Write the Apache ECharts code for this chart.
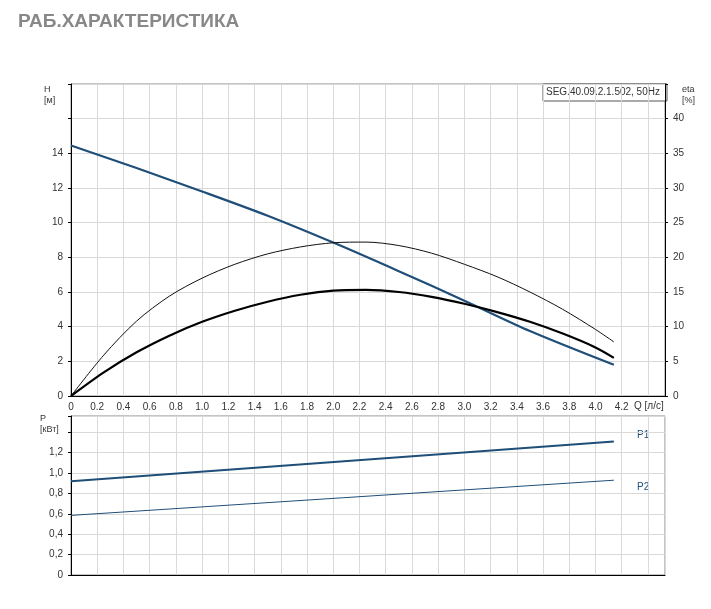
<!DOCTYPE html>
<html><head><meta charset="utf-8">
<script src="https://cdn.jsdelivr.net/npm/echarts@6/dist/echarts.min.js"></script>
<style>html,body{margin:0;padding:0;background:#fff}#c{width:711px;height:609px}</style>
</head><body><div id="c"></div>
<script>
const qH = [0, 0.5, 1.0, 1.5, 2.0, 2.5, 3.0, 3.5, 4.14];
const H = [14.45, 13.15, 11.8, 10.4, 8.85, 7.2, 5.5, 3.75, 1.8];
const qEta = [0, 0.25, 0.5, 0.75, 1.0, 1.25, 1.5, 1.75, 2.0, 2.25, 2.5, 2.75, 3.0, 3.25, 3.5, 3.75, 4.0, 4.14];
const etaThin = [0, 5.9, 10.8, 14.4, 17.0, 19.0, 20.5, 21.5, 22.1, 22.2, 21.7, 20.6, 19.0, 17.2, 15.0, 12.5, 9.6, 7.8];
const etaThick = [0, 3.4, 6.3, 8.7, 10.7, 12.3, 13.6, 14.6, 15.2, 15.3, 15.0, 14.3, 13.3, 12.1, 10.7, 9.0, 7.0, 5.5];
const qP = [0, 4.14];
const P1 = [0.92, 1.31];
const P2 = [0.585, 0.93];
const z = (a,b)=>a.map((v,i)=>[v,b[i]]);
const grid = {color:'#d9d9d9'};
const chart = echarts.init(document.getElementById('c'));
const xax = (gi, show) => ({type:'value', gridIndex:gi, min:0, max:4.53, interval:0.2,
  axisLine:{show:true,onZero:false,lineStyle:{color:'#000'}}, axisTick:{show:false},
  axisLabel:{show:show, color:'#333', fontSize:10, fontFamily:'Arial', margin:6,
    formatter:v=>v>4.21?'':(v===0?'0':v.toFixed(1))},
  splitLine:{show:true,lineStyle:grid}});
chart.setOption({
  animation:false,
  grid:[{left:71,right:46,top:84,height:312,show:true,borderColor:'#888'},
        {left:71,right:46,top:416,height:159,show:true,borderColor:'#888'}],
  xAxis:[xax(0,true), xax(1,false)],
  yAxis:[
    {type:'value',gridIndex:0,min:0,max:18,interval:2,
     axisLine:{show:true,lineStyle:{color:'#000'}},axisTick:{show:true,length:3},
     axisLabel:{color:'#333',fontSize:10,fontFamily:'Arial',formatter:v=>v>14?'':v},
     splitLine:{show:true,lineStyle:grid}},
    {type:'value',gridIndex:0,min:0,max:45,interval:5,position:'right',
     axisLine:{show:true,lineStyle:{color:'#000'}},axisTick:{show:true,length:3},
     axisLabel:{color:'#333',fontSize:10,fontFamily:'Arial',formatter:v=>v>40?'':v},
     splitLine:{show:false}},
    {type:'value',gridIndex:1,min:0,max:1.56,interval:0.2,
     axisLine:{show:true,lineStyle:{color:'#000'}},axisTick:{show:true,length:3},
     axisLabel:{color:'#333',fontSize:10,fontFamily:'Arial',
       formatter:v=>v>1.21?'':(v===0?'0':v.toFixed(1).replace('.',','))},
     splitLine:{show:true,lineStyle:grid}}
  ],
  series:[
    {type:'line',xAxisIndex:0,yAxisIndex:0,data:z(qH,H),smooth:0.3,symbol:'none',lineStyle:{color:'#1f4e79',width:2.2}},
    {type:'line',xAxisIndex:0,yAxisIndex:1,data:z(qEta,etaThin),smooth:0.3,symbol:'none',lineStyle:{color:'#111',width:1}},
    {type:'line',xAxisIndex:0,yAxisIndex:1,data:z(qEta,etaThick),smooth:0.3,symbol:'none',lineStyle:{color:'#000',width:2.2}},
    {type:'line',xAxisIndex:1,yAxisIndex:2,data:z(qP,P1),symbol:'none',lineStyle:{color:'#1f4e79',width:2.2}},
    {type:'line',xAxisIndex:1,yAxisIndex:2,data:z(qP,P2),symbol:'none',lineStyle:{color:'#1f4e79',width:1}}
  ],
  graphic:[
    {type:'text',left:18,top:12,style:{text:'РАБ.ХАРАКТЕРИСТИКА',font:'bold 19px Arial',fill:'#888'}},
    {type:'text',left:44,top:84,style:{text:'H\n[м]',font:'9px Arial',fill:'#333',align:'center',lineHeight:11}},
    {type:'text',left:682,top:84,style:{text:'eta\n[%]',font:'9px Arial',fill:'#333',lineHeight:11}},
    {type:'text',left:40,top:413,style:{text:'P\n[кВт]',font:'9px Arial',fill:'#333',lineHeight:11}},
    {type:'text',left:634,top:401,style:{text:'Q [л/с]',font:'10px Arial',fill:'#333'}},
    {type:'text',left:637,top:430,style:{text:'P1',font:'10px Arial',fill:'#1f4e79'}},
    {type:'text',left:637,top:482,style:{text:'P2',font:'10px Arial',fill:'#1f4e79'}},
    {type:'rect',shape:{x:543,y:84,width:124,height:17},style:{fill:'#fff',stroke:'#555',lineWidth:1}},
    {type:'text',left:546,top:87,style:{text:'SEG.40.09.2.1.502, 50Hz',font:'10px Arial',fill:'#333'}}
  ]
});
</script></body></html>
